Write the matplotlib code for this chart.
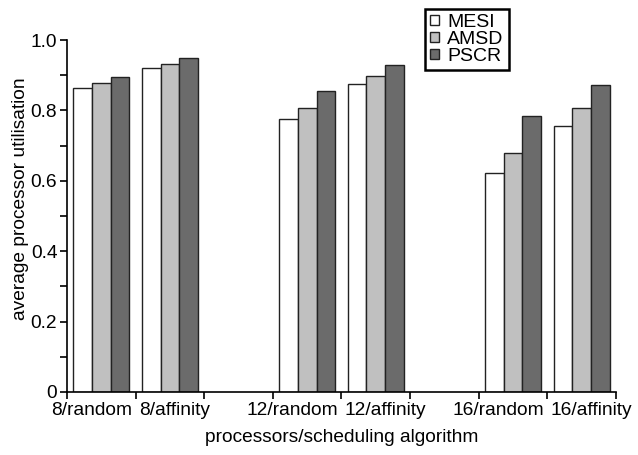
import numpy as np
import matplotlib
matplotlib.use("Agg")
import matplotlib.pyplot as plt
from matplotlib.ticker import MultipleLocator

plt.rcParams['font.family'] = ['Liberation Sans', 'DejaVu Sans']

# data
categories = ['8/random', '8/affinity', '', '12/random', '12/affinity', '', '16/random', '16/affinity']
mesi = [0.863, 0.920, np.nan, 0.775, 0.875, np.nan, 0.623, 0.757]
amsd = [0.879, 0.933, np.nan, 0.806, 0.899, np.nan, 0.679, 0.807]
pscr = [0.896, 0.948, np.nan, 0.855, 0.929, np.nan, 0.784, 0.871]
series = ['MESI', 'AMSD', 'PSCR']
colors = ['white', '#c0c0c0', '#6b6b6b']

FS = 13.8

fig = plt.figure(figsize=(6.38, 4.55), dpi=100)
ax = fig.add_axes([0.105, 0.1385, 0.8605, 0.7735])

x = np.arange(len(categories))
w = 0.272
for i, (vals, name, c) in enumerate(zip([mesi, amsd, pscr], series, colors)):
    ax.bar(x + (i - 1) * w, vals, w, color=c, edgecolor='#222222', linewidth=1.0, label=name)

ax.set_xlim(-0.5, len(categories) - 0.5)
ax.set_ylim(0, 1.0)

# tick marks at slot boundaries
ax.set_xticks(np.arange(len(categories) + 1) - 0.5)
ax.set_xticklabels([])
ax.tick_params(axis='x', which='major', direction='out', length=5, width=1.2)

# category labels: each pair meets at the boundary between its two slots
for i, c in enumerate(categories):
    if not c:
        continue
    first = (i + 1 < len(categories)) and categories[i + 1] != ''
    bx = i + 0.5 if first else i - 0.5
    ax.annotate(c, xy=(bx, 0), xycoords=('data', 'axes fraction'),
                xytext=(-2.5 if first else 2.5, -7), textcoords='offset points',
                ha='right' if first else 'left', va='top', fontsize=FS)

ax.set_yticks([0, 0.2, 0.4, 0.6, 0.8, 1.0])
ax.set_yticklabels(['0', '0.2', '0.4', '0.6', '0.8', '1.0'], fontsize=FS)
ax.yaxis.set_minor_locator(MultipleLocator(0.1))
ax.tick_params(axis='y', which='both', direction='out', length=5, width=1.2, pad=2)

for s in ['top', 'right']:
    ax.spines[s].set_visible(False)
for s in ['left', 'bottom']:
    ax.spines[s].set_linewidth(1.2)

ax.set_xlabel('processors/scheduling algorithm', fontsize=FS)
ax.xaxis.set_label_coords(0.5, -0.106)
ax.set_ylabel('average processor utilisation', fontsize=FS)
ax.yaxis.set_label_coords(-0.07, 0.55)

leg = ax.legend(loc='upper left', bbox_to_anchor=(0.653, 1.087), borderaxespad=0,
                fontsize=14, fancybox=False, framealpha=1, edgecolor='black',
                handlelength=0.42, handleheight=0.42, handletextpad=0.45,
                labelspacing=0.0, borderpad=0.25)
leg.get_frame().set_linewidth(1.8)

fig.savefig('out.png', dpi=100)
